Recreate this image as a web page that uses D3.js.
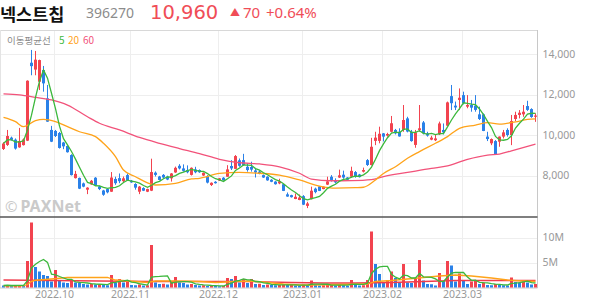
<!DOCTYPE html>
<html>
<head>
<meta charset="utf-8">
<title>넥스트칩 일봉 차트</title>
<style>
body { margin: 0; background: #fff; font-family: "Noto Sans CJK KR", "Noto Sans", sans-serif; }
svg { display: block; }
.grid line { stroke: #eeeeee; shape-rendering: crispEdges; }
.axis text { fill: #999; font-family: "Noto Sans", sans-serif; }
</style>
</head>
<body>
<div id="chart"></div>
<script src="https://cdn.jsdelivr.net/npm/d3@7"></script>
<script>
// daily candles, 2022-09-14 .. 2023-03-28
const opens = [9310,9510,9870,9770,9390,9500,9720,13570,13230,12630,13210,11810,10250,10200,10100,9630,9460,9010,7870,7880,
  7610,7300,7560,7890,7460,7260,7330,7200,7830,7870,7720,8020,7740,7580,7200,7380,7200,7250,8140,7950,
  8030,7950,7860,8150,8480,8350,8270,8030,8300,8270,8000,7970,7530,7690,7750,7890,7940,8470,8330,8750,
  8760,8430,8420,8250,8190,8020,7940,7790,7700,7610,7570,7070,7030,6840,6790,6980,6500,6830,7350,7460,
  7330,7550,7940,7780,7900,8040,7900,7940,8170,8050,8190,8760,8520,9710,9710,10080,9970,10160,10250,10160,
  10250,10820,10160,9510,10250,10620,10080,9770,9740,10030,10250,10460,11920,11450,11730,11970,11400,11480,11450,11020,
  11020,9920,9590,9700,9670,9920,10250,10000,10790,10990,11020,11430,11280,10900];
const highs = [9640,10250,9920,9830,10350,9830,12700,14200,14150,13720,13410,12470,10450,10250,10150,9660,9480,9050,8230,7900,
  7650,7420,7780,7920,7500,7290,7360,8170,7940,8100,7950,8100,7780,7620,7480,7420,7350,8830,8200,7980,
  8070,7990,8120,8440,8560,8550,8500,8400,8430,8300,8150,8020,7660,7720,7880,7920,8510,8760,9010,8840,
  9070,8600,8680,8340,8240,8050,7960,7820,7720,7840,7580,7160,7050,7110,7060,7030,6700,7450,7400,7480,
  7460,7940,8020,7860,8290,8240,7920,8435,8220,8080,8390,8810,9860,10160,10410,10100,10110,10940,10300,10330,
  11480,10900,10250,10250,11480,10690,10160,9960,10030,10660,10570,11650,12470,11650,12300,12140,11970,11730,11970,11400,
  11060,10160,9830,9750,9930,10250,10330,10990,11150,11230,11480,11690,11320,11070];
const lows = [9260,9460,9720,9280,9370,9480,9700,12950,12950,12220,12140,10650,9650,9900,9330,9300,9130,8000,7850,7330,
  7420,7080,7540,7500,7280,7000,7120,7190,7540,7620,7680,7740,7640,7300,7080,7230,7180,7230,7950,7760,
  7860,7770,7700,8130,8300,8190,8110,8000,8110,8130,7980,7610,7480,7600,7730,7750,7940,8270,8330,8430,
  8480,8190,8190,7900,8060,7880,7740,7670,7550,7570,7230,6950,6910,6830,6780,6540,6390,6820,7120,7230,
  7320,7530,7700,7610,7880,7840,7770,7890,7890,7900,8150,8470,8500,9500,9590,9680,9920,10130,10030,9920,
  10160,10130,9670,9370,10160,10030,9920,9740,9700,10000,10030,10440,11230,11230,11230,11510,11320,11150,11150,10740,
  10190,9700,9500,9050,9420,9830,9920,9500,10690,10820,10900,11190,10850,10650];
const closes = [9580,9950,9760,9330,9700,9780,12680,13400,13720,13700,12550,10660,9670,9950,9360,9440,9150,8020,8080,7350,
  7450,7400,7740,7530,7330,7050,7170,7900,7620,7720,7860,7760,7660,7400,7450,7250,7330,8170,8030,7780,
  7900,7800,8100,8380,8350,8230,8160,8380,8160,8160,8130,7650,7640,7620,7860,7770,8300,8350,8960,8480,
  8520,8270,8290,8150,8080,7900,7760,7690,7570,7710,7240,6960,6930,6950,6910,6560,6620,7250,7180,7240,
  7450,7710,7780,7660,8010,7900,7790,8230,7940,7920,8270,8520,9420,9870,10060,9920,10050,10580,10080,9930,
  10740,10170,9700,10130,10330,10080,9970,9870,9830,10570,10130,11610,11570,11360,11840,11570,11480,11350,11240,10790,
  10200,9800,9800,9060,9920,10130,10000,10690,10990,11100,11150,11240,10890,10960];
// volume, millions of shares
const volumes = [0.4,0.5,0.3,0.4,0.5,0.4,5.3,13.0,4.1,3.2,2.5,2.3,1.2,3.5,1.5,1.0,0.9,1.3,1.0,0.9,
  0.7,0.6,0.7,0.6,0.65,0.5,0.45,2.5,1.0,1.7,1.0,1.2,0.5,0.45,0.6,0.4,0.45,8.5,1.0,0.7,
  0.75,0.6,1.2,2.1,1.0,0.9,0.6,0.7,0.5,0.4,0.45,0.3,0.35,0.3,0.25,0.3,1.9,1.7,2.3,1.0,
  1.7,0.9,1.7,0.7,0.75,0.5,0.6,0.5,0.45,0.5,0.6,0.5,0.55,0.4,0.35,0.6,0.5,1.4,0.5,0.4,
  0.45,0.5,0.6,0.4,0.5,0.45,0.35,1.5,0.5,0.4,0.45,1.5,11.2,4.7,2.7,1.0,1.5,3.2,1.9,1.0,
  4.7,1.0,0.9,1.9,5.5,1.4,0.7,0.65,0.4,2.9,1.3,5.3,4.4,1.2,2.8,1.3,0.7,1.2,1.3,0.7,
  1.0,0.5,0.45,0.7,0.5,0.45,0.4,2.0,1.1,1.0,1.2,1.0,0.6,0.7];

// 20 / 60 day averages (candle index, value)
const ma20At = [0,3,5,8,10,13,16,19,23,25,28,30,33,36,38,43,47,49,54,59,64,69,74,79,83,88,90,93,95,98,101,104,108,111,114,118,121,124,128,131,133];
const ma20 = [10870,10660,10410,10710,10770,10660,10410,10160,9920,9590,8930,8270,7940,7640,7530,7610,7830,7860,8100,8150,8110,8020,7780,7480,7380,7400,7420,7780,8100,8430,8850,9180,9590,9920,10330,10490,10610,10540,10650,10770,10800];
const ma60At = [0,4,8,12,16,21,24,29,34,39,44,49,54,59,64,69,74,77,82,87,92,95,101,107,111,116,121,124,127,133];
const ma60 = [12030,11980,11860,11730,11480,10900,10580,10250,9880,9590,9330,9080,8800,8630,8570,8430,8110,7820,7740,7750,7800,7950,8150,8350,8470,8800,9010,9060,9220,9550];
const vma20At = [0,5,6,7,8,12,16,20,24,26,28,33,36,38,43,49,53,58,62,66,70,74,77,91,93,97,101,105,109,113,117,122,126,130,133];
const vma20 = [0.33,0.33,0.6,1.25,1.45,1.7,2.0,2.0,2.0,2.0,1.5,1.2,1.0,1.3,1.3,1.2,1.0,1.2,1.3,1.0,0.7,0.5,0.5,0.7,1.2,1.4,1.7,2.0,2.3,2.5,2.3,1.9,1.5,1.3,1.2];
const vma60At = [0,12,24,37,49,62,72,80,88,97,105,113,122,133];
const vma60 = [1.5,1.4,1.3,1.2,1.2,1.2,1.0,0.9,0.9,1.0,1.2,1.4,1.4,1.4];

const monthStart = [13, 32, 54, 75, 95, 115];
const monthLabel = ["2022.10", "2022.11", "2022.12", "2023.01", "2023.02", "2023.03"];
const priceTicks = [8000, 10000, 12000, 14000];
const volTicks = [5, 10];

const UP = "#f2434f", DOWN = "#2a81e8";
const C5 = "#3cb83c", C20 = "#ffa31a", C60 = "#f2527a";

const svg = d3.select("#chart").append("svg")
    .attr("width", 594)
    .attr("height", 304);

const right = 537.5;
const idx = d3.range(closes.length);
const x = d3.scaleBand().domain(idx).range([1.5, right]);
const cx = i => x(i) + x.bandwidth() / 2;
const y = d3.scaleLinear().domain([6000, 14000]).range([216, 54]);
const yv = d3.scaleLinear().domain([0, 10]).range([287.5, 237.5]);

// header
svg.append("text").attr("x", 0).attr("y", 20.5)
    .style("font-size", "17.5px").style("font-weight", "bold").attr("fill", "#111")
    .text("넥스트칩");
svg.append("text").attr("x", 86).attr("y", 18)
    .style("font-family", "'Noto Sans', sans-serif").style("font-size", "14px").attr("fill", "#8c8c8c")
    .text("396270");
svg.append("text").attr("x", 150).attr("y", 18.5)
    .style("font-family", "'DejaVu Sans', sans-serif").style("font-size", "19.5px").attr("fill", "#f04d57")
    .text("10,960");
svg.append("text").attr("x", 230).attr("y", 16)
    .style("font-size", "10px").attr("fill", "#f04d57")
    .text("▲");
svg.append("text").attr("x", 243).attr("y", 18)
    .style("font-family", "'Noto Sans', sans-serif").style("font-size", "15px").attr("fill", "#f04d57")
    .text("70");
svg.append("text").attr("x", 266).attr("y", 18)
    .style("font-family", "'Noto Sans', sans-serif").style("font-size", "15px").attr("fill", "#f04d57")
    .text("+0.64%");

// grid
const grid = svg.append("g").attr("class", "grid");
grid.selectAll(".hp").data(priceTicks).enter().append("line")
    .attr("x1", 0).attr("x2", right).attr("y1", d => Math.round(y(d)) + 0.5).attr("y2", d => Math.round(y(d)) + 0.5);
grid.selectAll(".hv").data(volTicks).enter().append("line")
    .attr("x1", 0).attr("x2", right).attr("y1", d => Math.round(yv(d)) + 0.5).attr("y2", d => Math.round(yv(d)) + 0.5);
grid.selectAll(".vm").data(monthStart).enter().append("line")
    .attr("x1", d => cx(d) - 1).attr("x2", d => cx(d) - 1).attr("y1", 30).attr("y2", 287.5);

// frame
svg.append("line").attr("x1", 0).attr("x2", right).attr("y1", 30.5).attr("y2", 30.5).attr("stroke", "#d8d8d8");
svg.append("line").attr("x1", 0.5).attr("x2", 0.5).attr("y1", 30).attr("y2", 288).attr("stroke", "#e4e4e4");
svg.append("line").attr("x1", right).attr("x2", right).attr("y1", 30).attr("y2", 288).attr("stroke", "#c8c8c8");
svg.append("line").attr("x1", 0).attr("x2", right).attr("y1", 288).attr("y2", 288).attr("stroke", "#c8c8c8");
svg.append("line").attr("x1", 0).attr("x2", right).attr("y1", 217).attr("y2", 217).attr("stroke", "#555").attr("stroke-width", 1.5);

// watermark
const wm = svg.append("text").attr("x", 5).attr("y", 212).attr("fill", "#cacaca")
    .style("font-family", "'Noto Sans', sans-serif");
wm.append("tspan").style("font-size", "15px").text("©");
wm.append("tspan").attr("dx", 3).style("font-size", "16px").style("font-weight", "bold").text("PAXNet");

svg.append("clipPath").attr("id", "plot").append("rect")
    .attr("x", 0).attr("y", 31).attr("width", right).attr("height", 257);
const plot = svg.append("g").attr("clip-path", "url(#plot)");

// candles
const candle = plot.append("g").selectAll("g").data(idx).enter().append("g")
    .attr("fill", i => closes[i] >= opens[i] ? UP : DOWN)
    .attr("stroke", i => closes[i] >= opens[i] ? UP : DOWN);
candle.append("line")
    .attr("x1", i => cx(i)).attr("x2", i => cx(i))
    .attr("y1", i => y(highs[i])).attr("y2", i => y(lows[i]));
candle.append("rect")
    .attr("stroke", "none")
    .attr("x", i => cx(i) - 1.5).attr("width", 3)
    .attr("y", i => y(Math.max(opens[i], closes[i])))
    .attr("height", i => Math.max(1, Math.abs(y(opens[i]) - y(closes[i]))));

// volume bars: red when volume rose from the day before
plot.append("g").selectAll("rect").data(idx).enter().append("rect")
    .attr("x", i => cx(i) - 1.5).attr("width", 3)
    .attr("y", i => yv(volumes[i]))
    .attr("height", i => yv(0) - yv(volumes[i]))
    .attr("fill", i => i > 0 && volumes[i] > volumes[i - 1] ? UP : DOWN);

// moving averages
const rolling = (arr, n) => arr.map((_, i) => d3.mean(arr.slice(Math.max(0, i - n + 1), i + 1)));
const knots = (at, vals) => at.map((a, k) => [a, vals[k]]);

const smooth = sc => d3.line().x(d => cx(d[0])).y(d => sc(d[1])).curve(d3.curveMonotoneX);
const straight = sc => d3.line().x(d => cx(d[0])).y(d => sc(d[1]));

function addLine(path, data, color) {
  plot.append("path").datum(data)
      .attr("fill", "none").attr("stroke", color).attr("stroke-width", 1.3)
      .attr("d", path);
}

addLine(smooth(y), knots(ma60At, ma60), C60);
addLine(smooth(y), knots(ma20At, ma20), C20);
addLine(straight(y), rolling(closes, 5).map((v, i) => [i, v]), C5);

addLine(straight(yv), knots(vma60At, vma60), "#f03c4c");
addLine(straight(yv), knots(vma20At, vma20), C20);
addLine(straight(yv), rolling(volumes, 5).map((v, i) => [i, v]), C5);

// axes
svg.append("g").attr("class", "axis")
    .attr("transform", "translate(" + right + ",0)")
    .call(d3.axisRight(y).tickValues(priceTicks).tickFormat(d3.format(",")).tickSize(0).tickPadding(5))
    .call(g => g.select(".domain").remove())
    .selectAll("text").style("font-size", "10.5px");

svg.append("g").attr("class", "axis")
    .attr("transform", "translate(" + right + ",0)")
    .call(d3.axisRight(yv).tickValues(volTicks).tickFormat(d => d + "M").tickSize(0).tickPadding(5))
    .call(g => g.select(".domain").remove())
    .selectAll("text").style("font-size", "10.5px");

svg.append("g").attr("class", "axis")
    .attr("transform", "translate(-1,288)")
    .call(d3.axisBottom(x).tickValues(monthStart).tickFormat((d, k) => monthLabel[k]).tickSize(0).tickPadding(3))
    .call(g => g.select(".domain").remove())
    .selectAll("text").style("font-size", "10.5px");

// legend
const lg = svg.append("text").attr("x", 7).attr("y", 44).style("font-size", "9.5px");
lg.append("tspan").attr("fill", "#8a8a8a").text("이동평균선");
lg.append("tspan").attr("x", 59).attr("fill", C5).style("font-size", "10px").text("5");
lg.append("tspan").attr("x", 68).attr("fill", C20).style("font-size", "10px").text("20");
lg.append("tspan").attr("x", 83).attr("fill", C60).style("font-size", "10px").text("60");
</script>
</body>
</html>
